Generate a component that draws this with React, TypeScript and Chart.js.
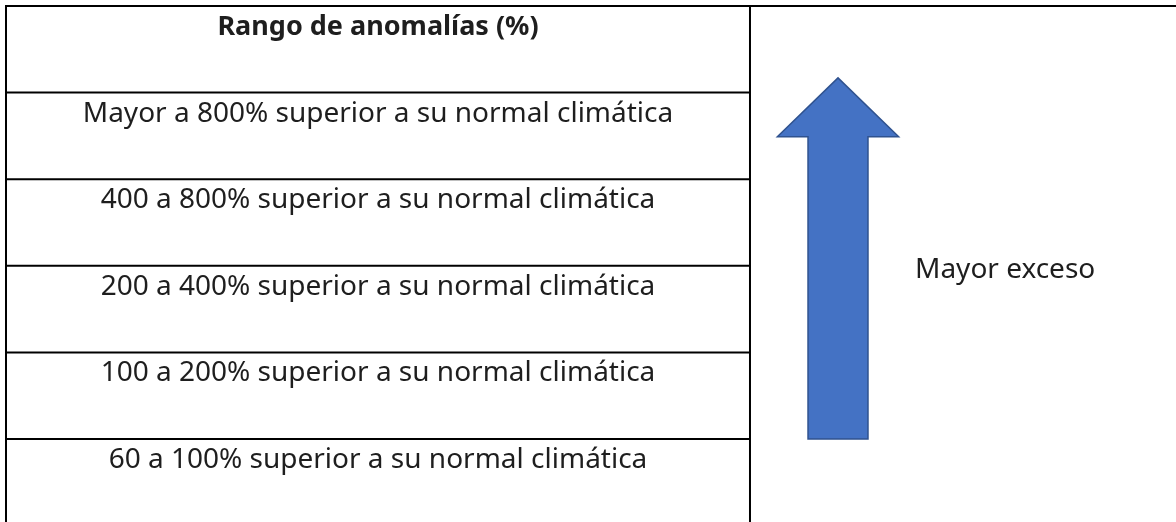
import { useEffect, useRef } from "react";
import { Chart, registerables } from "chart.js";

Chart.register(...registerables);

// ---- data ----
const headerLabel = "Rango de anomalías (%)";
const rangeLabels = [
  "Mayor a 800% superior a su normal climática",
  "400 a 800% superior a su normal climática",
  "200 a 400% superior a su normal climática",
  "100 a 200% superior a su normal climática",
  "60 a 100% superior a su normal climática",
];
const sideLabel = "Mayor exceso";
// arrow in table units (rows down, columns across)
const arrowRows = [5, 1.51, 0.83]; // shaft bottom, head base, tip
const arrowCols = [1.1183, 0.0403, 0.0815]; // centre, shaft half-width, head half-width
const sideLabelPos = [1.2218, 3.141]; // column, row (baseline)

const FONT = "'Noto Sans', Lato, sans-serif";

const tablePlugin = {
  id: "tableDraw",
  afterDraw(chart: any) {
    const { ctx, scales } = chart;
    const x = scales.x;
    const y = scales.y;
    const rows = [headerLabel, ...rangeLabels];
    ctx.save();
    ctx.strokeStyle = "#000000";
    ctx.lineWidth = 2;
    ctx.lineCap = "butt";
    const X = (v: number) => x.getPixelForValue(v);
    const Y = (v: number) => y.getPixelForValue(v);
    // top border across full width
    ctx.beginPath();
    ctx.moveTo(X(0) - 1, Y(0));
    ctx.lineTo(chart.width, Y(0));
    ctx.stroke();
    // row lines in left column
    for (let i = 1; i < rows.length; i++) {
      ctx.beginPath();
      ctx.moveTo(X(0), Y(i));
      ctx.lineTo(X(1), Y(i));
      ctx.stroke();
    }
    // vertical lines
    [0, 1].forEach((c) => {
      ctx.beginPath();
      ctx.moveTo(X(c), Y(0) - 1);
      ctx.lineTo(X(c), chart.height);
      ctx.stroke();
    });
    // text
    ctx.fillStyle = "#1e1e1e";
    ctx.textAlign = "center";
    ctx.textBaseline = "alphabetic";
    rows.forEach((label, i) => {
      ctx.font = (i === 0 ? "bold 27px " : "28px ") + FONT;
      ctx.fillText(label, X(0.5), Y(i + 0.335));
    });
    ctx.textAlign = "left";
    ctx.font = "28px " + FONT;
    ctx.fillText(sideLabel, X(sideLabelPos[0]), Y(sideLabelPos[1]));
    // arrow
    const cx = arrowCols[0];
    ctx.beginPath();
    ctx.moveTo(X(cx - arrowCols[1]), Y(arrowRows[0]));
    ctx.lineTo(X(cx - arrowCols[1]), Y(arrowRows[1]));
    ctx.lineTo(X(cx - arrowCols[2]), Y(arrowRows[1]));
    ctx.lineTo(X(cx), Y(arrowRows[2]));
    ctx.lineTo(X(cx + arrowCols[2]), Y(arrowRows[1]));
    ctx.lineTo(X(cx + arrowCols[1]), Y(arrowRows[1]));
    ctx.lineTo(X(cx + arrowCols[1]), Y(arrowRows[0]));
    ctx.closePath();
    ctx.fillStyle = "#4472C4";
    ctx.fill();
    ctx.strokeStyle = "#2F528F";
    ctx.lineWidth = 1.5;
    ctx.lineJoin = "miter";
    ctx.stroke();
    ctx.restore();
  },
};

export default function App() {
  const ref = useRef<HTMLCanvasElement | null>(null);
  useEffect(() => {
    if (!ref.current) return;
    const chart = new Chart(ref.current, {
      type: "scatter",
      data: { datasets: [{ data: [] }] },
      options: {
        animation: false,
        responsive: false,
        devicePixelRatio: 1,
        layout: { padding: { top: 6, left: 6, right: 0, bottom: 0 } },
        plugins: { legend: { display: false }, tooltip: { enabled: false } },
        scales: {
          x: { type: "linear", min: 0, max: 1.5726, display: false },
          y: { type: "linear", min: 0, max: 5.958, reverse: true, display: false },
        },
      },
      plugins: [tablePlugin],
    });
    return () => chart.destroy();
  }, []);
  return (
    <div style={{ position: "absolute", left: 0, top: 0, width: 1176, height: 522, background: "#ffffff" }}>
      <canvas ref={ref} width={1176} height={522} />
    </div>
  );
}
